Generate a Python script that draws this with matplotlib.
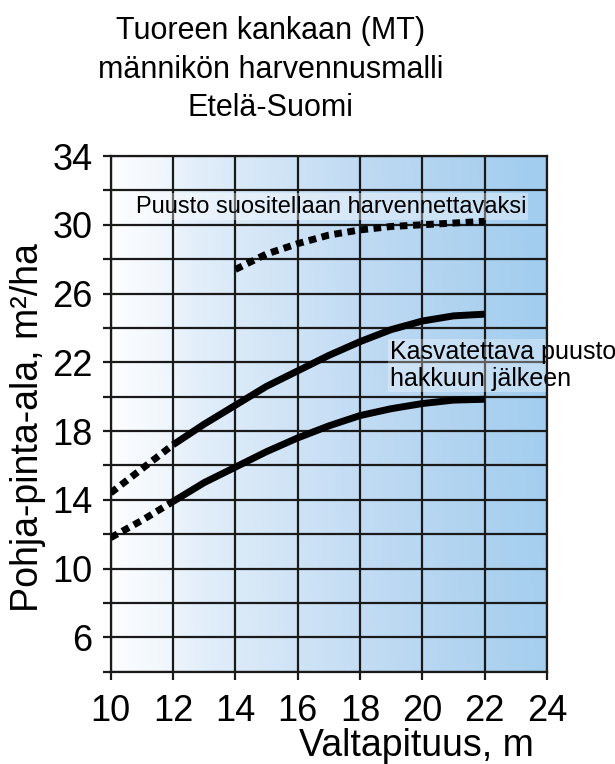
import numpy as np
import matplotlib
matplotlib.use("Agg")
import matplotlib.pyplot as plt
from matplotlib.colors import LinearSegmentedColormap

plt.rcParams['font.family'] = ['Liberation Sans', 'DejaVu Sans']

title_lines = ["Tuoreen kankaan (MT)", "männikön harvennusmalli", "Etelä-Suomi"]
xlabel = "Valtapituus, m"
ylabel = "Pohja-pinta-ala, m²/ha"
xticks = [10, 12, 14, 16, 18, 20, 22, 24]
yticks = [6, 10, 14, 18, 22, 26, 30, 34]

# upper "kasvatettava" curve
up_dot_x = [10, 11, 12]
up_dot_y = [14.4, 15.8, 17.2]
up_x = [12, 13, 14, 15, 16, 17, 18, 19, 20, 21, 22]
up_y = [17.2, 18.4, 19.5, 20.6, 21.5, 22.4, 23.2, 23.9, 24.4, 24.7, 24.8]
# lower "kasvatettava" curve
lo_dot_x = [10, 11, 12]
lo_dot_y = [11.8, 12.8, 13.9]
lo_x = [12, 13, 14, 15, 16, 17, 18, 19, 20, 21, 22]
lo_y = [13.9, 15.0, 15.9, 16.8, 17.6, 18.3, 18.9, 19.3, 19.6, 19.8, 19.85]
# thinning threshold curve
th_x = [14, 15, 16, 17, 18, 19, 20, 21, 22]
th_y = [27.4, 28.3, 28.9, 29.4, 29.7, 29.9, 30.0, 30.1, 30.2]

label_top = "Puusto suositellaan harvennettavaksi"
label_mid = "Kasvatettava puusto\nhakkuun jälkeen"

fig = plt.figure(figsize=(6.15, 7.64), dpi=100)
ax = fig.add_axes([0.18, 0.1208, 0.7094, 0.675])
ax.set_xlim(10, 24)
ax.set_ylim(4, 34)

cmap = LinearSegmentedColormap.from_list(
    "bg", [(0.0, "#fcfdff"), (0.1, "#f3f8fd"), (0.2, "#e2eefa"),
           (0.4, "#d0e4f6"), (0.6, "#bfdaf3"), (0.8, "#b0d3f0"),
           (1.0, "#a2cdef")])
gx = np.linspace(0, 1, 256)
gy = np.linspace(0, 1, 64)
G = np.clip(gx[None, :] * 0.95 + gy[:, None] * gx[None, :] * 0.08, 0, 1)
ax.imshow(G, extent=[10, 24, 4, 34], origin="lower", aspect="auto",
          cmap=cmap, vmin=0, vmax=1, zorder=0)

# grid
for gxv in np.arange(10, 25, 2):
    ax.axvline(gxv, color="#1a1a1a", lw=1.6, zorder=1)
for gyv in np.arange(4, 35, 2):
    ax.axhline(gyv, color="#1a1a1a", lw=1.6, zorder=1)

ax.set_xticks(xticks)
ax.set_yticks(yticks)
ax.set_yticks(np.arange(4, 35, 2), minor=True)
ax.tick_params(axis="both", which="major", length=6, width=1.6,
               color="#1a1a1a", labelsize=26)
ax.tick_params(axis="x", which="major", pad=10)
ax.tick_params(axis="y", which="major", pad=7)
ax.tick_params(axis="y", which="minor", length=6, width=1.6, color="#1a1a1a")
for s in ax.spines.values():
    s.set_linewidth(1.6)
    s.set_color("#1a1a1a")

# curves
ax.plot(up_dot_x, up_dot_y, color="black", lw=5, ls=(0, (1.1, 0.8)),
        dash_capstyle="butt", zorder=3)
ax.plot(up_x, up_y, color="black", lw=5, solid_capstyle="butt", zorder=3)
ax.plot(lo_dot_x, lo_dot_y, color="black", lw=5, ls=(0, (1.1, 0.8)),
        dash_capstyle="butt", zorder=3)
ax.plot(lo_x, lo_y, color="black", lw=5, solid_capstyle="butt", zorder=3)
ax.plot(th_x, th_y, color="black", lw=5, ls=(0, (1.1, 0.8)),
        dash_capstyle="butt", zorder=3)

ax.text(10.8, 31.05, label_top, fontsize=17, va="center", ha="left",
        zorder=2,
        bbox=dict(boxstyle="square,pad=0.1", facecolor="white",
                  edgecolor="none", alpha=0.35))
ax.text(18.95, 21.8, label_mid, fontsize=18, va="center", ha="left",
        linespacing=1.15, zorder=2,
        bbox=dict(boxstyle="square,pad=0.05", facecolor="white",
                  edgecolor="none", alpha=0.3))

fig.text(0.44, 0.959, title_lines[0], fontsize=22, ha="center", va="center")
fig.text(0.44, 0.909, title_lines[1], fontsize=22, ha="center", va="center")
fig.text(0.44, 0.859, title_lines[2], fontsize=22, ha="center", va="center")

fig.text(0.677, 0.024, xlabel, fontsize=27, ha="center", va="center")
fig.text(0.045, 0.44, ylabel, fontsize=27, ha="center", va="center",
         rotation=90)

fig.savefig("out.png", dpi=100)
